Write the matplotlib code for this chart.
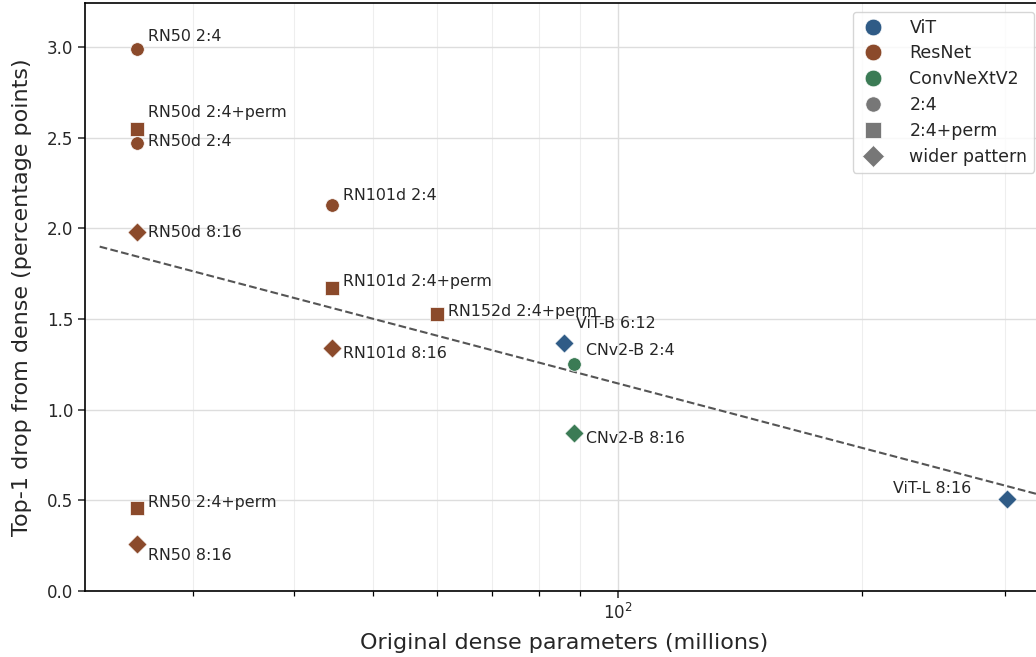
import numpy as np
import matplotlib
matplotlib.use("Agg")
import matplotlib.pyplot as plt
from matplotlib.lines import Line2D
from matplotlib.ticker import NullFormatter

# ---- data ----
labels = ["RN50 2:4", "RN50d 2:4+perm", "RN50d 2:4", "RN50d 8:16",
          "RN101d 2:4", "RN101d 2:4+perm", "RN152d 2:4+perm", "RN101d 8:16",
          "ViT-B 6:12", "CNv2-B 2:4", "CNv2-B 8:16",
          "RN50 2:4+perm", "RN50 8:16", "ViT-L 8:16"]
params = [25.6, 25.6, 25.6, 25.6,
          44.5, 44.5, 60.0, 44.5,
          86.0, 88.5, 88.5,
          25.6, 25.6, 302.0]
drops = [2.99, 2.55, 2.47, 1.98,
         2.13, 1.67, 1.53, 1.34,
         1.37, 1.25, 0.87,
         0.46, 0.26, 0.51]
families = ["ResNet"] * 8 + ["ViT", "ConvNeXtV2", "ConvNeXtV2", "ResNet", "ResNet", "ViT"]
methods = ["2:4", "2:4+perm", "2:4", "wider pattern",
           "2:4", "2:4+perm", "2:4+perm", "wider pattern",
           "wider pattern", "2:4", "wider pattern",
           "2:4+perm", "wider pattern", "wider pattern"]

family_order = ["ViT", "ResNet", "ConvNeXtV2"]
method_order = ["2:4", "2:4+perm", "wider pattern"]

# ---- styles ----
family_colors = {"ViT": "#2f5b86", "ResNet": "#8b4a2b", "ConvNeXtV2": "#3b7b55"}
method_markers = {"2:4": "o", "2:4+perm": "s", "wider pattern": "D"}
# annotation offsets in pixels (dx, dy), dy positive = up
offsets = {
    "RN50 2:4": (11, 12, "left"),
    "RN50d 2:4+perm": (11, 16, "left"),
    "RN50d 2:4": (11, 2, "left"),
    "RN50d 8:16": (11, -1, "left"),
    "RN101d 2:4": (11, 9, "left"),
    "RN101d 2:4+perm": (11, 7, "left"),
    "RN152d 2:4+perm": (11, 2, "left"),
    "RN101d 8:16": (11, -5, "left"),
    "ViT-B 6:12": (12, 19, "left"),
    "CNv2-B 2:4": (12, 14, "left"),
    "CNv2-B 8:16": (12, -5, "left"),
    "RN50 2:4+perm": (11, 5, "left"),
    "RN50 8:16": (11, -12, "left"),
    "ViT-L 8:16": (-36, 10, "right"),
}

fig = plt.figure(figsize=(10.36, 6.57), dpi=100)
ax = fig.add_axes([85 / 1036, 66 / 657, (1043 - 85) / 1036, (591 - 3) / 657])

ax.set_xscale("log")

# trend line (least squares fit in log space)
lx = np.log10(np.array(params))
coef = np.polyfit(lx, np.array(drops), 1)
xs = np.logspace(np.log10(min(params) * 0.9), np.log10(max(params) * 1.1), 100)
ax.plot(xs, np.polyval(coef, np.log10(xs)), ls="--", color="#555555", lw=1.5, zorder=2)

for lab, p, d, f, m in zip(labels, params, drops, families, methods):
    ax.scatter([p], [d], s=95, marker=method_markers[m], color=family_colors[f],
               edgecolor="white", linewidth=0.5, zorder=3)
    dx, dy, ha = offsets[lab]
    ax.annotate(lab, (p, d), xytext=(dx * 0.72, dy * 0.72), textcoords="offset points",
                ha=ha, va="center", fontsize=11.4, color="#262626", zorder=4)

ax.set_xlim(22.1, 334)
ax.set_ylim(0, 3.243)
ax.set_yticks([0.0, 0.5, 1.0, 1.5, 2.0, 2.5, 3.0])
ax.xaxis.set_minor_formatter(NullFormatter())

ax.grid(True, which="major", color="#dddddd", lw=1.0, zorder=0)
ax.grid(True, which="minor", axis="x", color="#eeeeee", lw=0.8, zorder=0)
ax.set_axisbelow(True)

ax.tick_params(axis="both", which="major", labelsize=12, length=5, width=1.1, colors="#262626")
ax.tick_params(axis="x", which="minor", length=3.5, width=0.9)
for sp in ax.spines.values():
    sp.set_linewidth(1.2)
    sp.set_color("black")

ax.set_xlabel("Original dense parameters (millions)", fontsize=16, color="#262626", labelpad=7)
ax.set_ylabel("Top-1 drop from dense (percentage points)", fontsize=16, color="#262626", labelpad=11)

handles = []
for f in family_order:
    handles.append(Line2D([], [], ls="none", marker="o", markersize=12,
                          markerfacecolor=family_colors[f], markeredgecolor="white",
                          markeredgewidth=0.5, label=f))
for m in method_order:
    handles.append(Line2D([], [], ls="none", marker=method_markers[m], markersize=11,
                          markerfacecolor="#777777", markeredgecolor="white",
                          markeredgewidth=0.5, label=m))
leg = ax.legend(handles=handles, loc="upper right", fontsize=12.5, frameon=True,
                handlelength=1.5, handletextpad=1.35, borderpad=0.4, labelspacing=0.45)
leg.get_frame().set_edgecolor("#cccccc")
for t in leg.get_texts():
    t.set_color("#262626")

fig.savefig("out.png", dpi=100)
